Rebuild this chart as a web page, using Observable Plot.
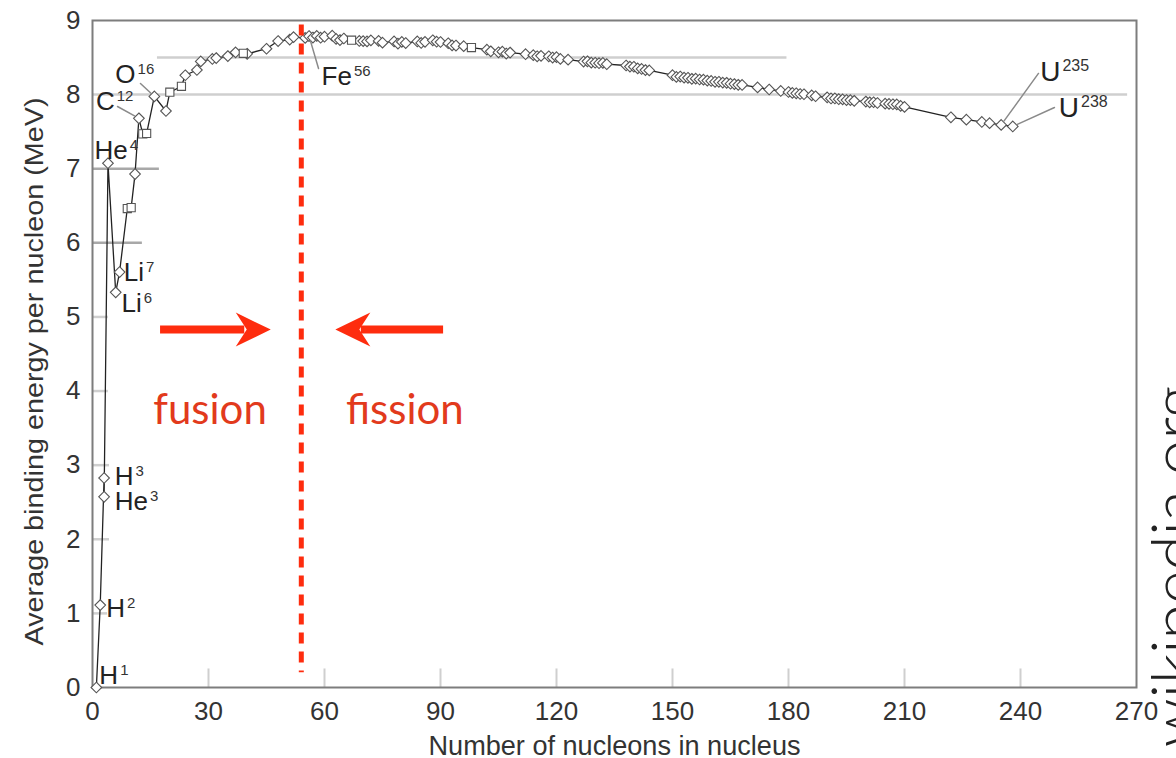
<!DOCTYPE html>
<html>
<head>
<meta charset="utf-8">
<script src="https://cdn.jsdelivr.net/npm/d3@7"></script>
<script src="https://cdn.jsdelivr.net/npm/@observablehq/plot@0.6"></script>
<style>
  html, body { margin: 0; padding: 0; background: #fff; overflow: hidden; }
</style>
</head>
<body>
<div id="chart"></div>
<script>
// ---- Data ----
const massNumbers = [1,2,3,3,4,6,7,9,10,11,12,13,14,16,19,20,23,24,27,28,31,32,35,37,39,40,45,48,51,52,55,56,
  57,58,59,60,62,63,64,65,67,69,70,71,72,74,75,78,79,80,81,84,85,86,88,89,90,92,93,94,96,98,
  102,103,105,106,107,108,112,114,115,116,118,119,120,121,123,127,128,129,130,131,132,133,
  138,139,140,141,142,143,144,150,151,152,153,154,155,156,157,158,159,160,161,162,163,164,165,166,167,168,
  172,175,178,180,181,182,183,184,186,187,190,191,192,193,194,195,196,197,200,201,202,203,205,206,207,208,209,210,
  222,226,230,232,235,238];
const bindingEnergy = [0,1.112,2.827,2.573,7.074,5.332,5.606,6.463,6.475,6.928,7.680,7.470,7.476,7.976,7.779,8.032,8.112,8.261,8.332,8.448,8.481,8.493,8.520,8.570,8.557,8.551,8.619,8.723,8.742,8.776,8.765,8.790,
  8.770,8.792,8.768,8.781,8.795,8.752,8.736,8.757,8.734,8.724,8.722,8.718,8.732,8.725,8.701,8.718,8.688,8.711,8.696,8.717,8.697,8.712,8.733,8.714,8.710,8.693,8.664,8.662,8.654,8.635,
  8.607,8.584,8.571,8.580,8.554,8.567,8.545,8.532,8.517,8.523,8.517,8.500,8.505,8.482,8.472,8.446,8.449,8.431,8.430,8.424,8.428,8.410,
  8.393,8.378,8.376,8.354,8.346,8.331,8.327,8.262,8.239,8.244,8.229,8.227,8.213,8.215,8.204,8.202,8.189,8.184,8.173,8.173,8.162,8.159,8.147,8.142,8.132,8.130,
  8.097,8.069,8.049,8.035,8.023,8.018,8.008,8.005,7.989,7.978,7.963,7.948,7.948,7.938,7.936,7.927,7.926,7.916,7.906,7.896,7.897,7.887,7.878,7.875,7.870,7.868,7.848,7.834,
  7.694,7.662,7.631,7.615,7.591,7.570];
const squareMasses = [9,10,13,14,20,23,39,67,98];

const labelSymbols = ["H","H","H","He","He","Li","Li","C","O","Fe","U","U"];
const labelSupers  = ["1","2","3","3","4","6","7","12","16","56","235","238"];
const labelMass    = [1,2,3,3,4,6,7,12,16,56,235,238];
const labelEnergy  = [0,1.112,2.827,2.573,7.074,5.332,5.606,7.680,7.976,8.790,7.591,7.570];
const leaderLabels = ["C12","O16","Fe56","U235","U238"];

const xTicks = [0,30,60,90,120,150,180,210,240,270];
const yTicks = [0,1,2,3,4,5,6,7,8,9];
const gridLevels = [1,2,3,4,5,6,7,8,8.5];
const gridFrom   = [0,0,0,0,0,0,0,0,16.8];
const gridTo     = [3.9,4.4,4.4,4.1,4.1,12.9,17.3,267.7,179.6];
const xTickMarks = [30,60,90,120,150,180,210,240];

const dividerMass = 54;
const arrowLevel = 4.83;
const arrowFrom = [17.6, 90.8];
const arrowTo   = [46.1, 62.8];
const regionWords = ["fusion", "fission"];
const regionMass  = [30.4, 80.8];
const regionLevel = 3.55;

// ---- Layout ----
const W = 1176, H = 758;
const M = {top: 20, right: 40, bottom: 71, left: 92};
const pxPerA = (W - M.left - M.right) / 270;
const red = "#fe2c0e", redText = "#e23a1c";

const points = massNumbers.map((A, i) => ({A, be: bindingEnergy[i], square: squareMasses.includes(A)}));
const grid = gridLevels.map((y, i) => ({y, x1: gridFrom[i], x2: gridTo[i]}));
const labels = labelSymbols.map((s, i) => ({sym: s, sup: labelSupers[i], A: labelMass[i], be: labelEnergy[i], key: s + labelSupers[i]}));

// label placement (pixel offsets: [dx to left edge, dy to baseline])
const labelOffsets = {
  H1: [3, -4], H2: [6, 12], H3: [10.7, 7.5], He3: [10.7, 12.7], He4: [-13.5, -4.7],
  Li6: [5.8, 20], Li7: [4.2, 8.5], C12: [-43, -8], O16: [-39, -13],
  Fe56: [12.5, 49], U235: [39, -43.5], U238: [46, -9]
};
// leader line ends (pixel offsets from the point)
const leaderEnds = {
  C12: [-21.4, -11.8], O16: [-13.9, -12.9], Fe56: [9.5, 32.4], U235: [37.3, -51.5], U238: [41.7, -19]
};

const leaderShape = {draw(ctx, l) { ctx.moveTo(0, -5); ctx.lineTo(0, -l); }};
const headShape = {draw(ctx) {
  ctx.moveTo(0, 0); ctx.lineTo(17, 35); ctx.lineTo(0, 24); ctx.lineTo(-17, 35); ctx.closePath();
}};

const labelMarks = labels.map((d) => Plot.text([d], {
  x: "A", y: "be", text: "sym",
  dx: labelOffsets[d.key][0], dy: labelOffsets[d.key][1],
  textAnchor: "start", lineAnchor: "bottom",
  fontSize: d.sym === "U" ? 28 : 26, fill: "#222"
}));

const leaderMarks = labels.filter((d) => leaderLabels.includes(d.key)).map((d) => {
  const [ex, ey] = leaderEnds[d.key];
  return Plot.vector([d], {
    x: "A", y: "be", anchor: "start", shape: leaderShape,
    length: Math.hypot(ex, ey), rotate: Math.atan2(ex, -ey) * 180 / Math.PI,
    stroke: "#8a8a8a", strokeWidth: 1.5
  });
});

const arrows = arrowFrom.map((from, i) => ({
  y: arrowLevel, from, to: arrowTo[i],
  shaftEnd: arrowTo[i] + (arrowTo[i] > from ? -1 : 1) * 26 / pxPerA,
  dir: arrowTo[i] > from ? 90 : -90
}));

const xTitle = "Number of nucleons in nucleus";
const yTitle = "Average binding energy per nucleon (MeV)";

const plot = Plot.plot({
  width: W, height: H,
  marginTop: M.top, marginRight: M.right, marginBottom: M.bottom, marginLeft: M.left,
  x: {domain: [0, 270]},
  y: {domain: [0, 9]},
  style: {fontFamily: "'Liberation Sans', Arial, sans-serif", fontSize: "26px", color: "#333", background: "#fff", overflow: "visible"},
  marks: [
    Plot.ruleY(grid, {y: "y", x1: "x1", x2: "x2", stroke: (d) => (d.y === 6 || d.y === 7) ? "#a8a8a8" : "#cfcfcf", strokeWidth: 2.5}),
    Plot.ruleX(xTickMarks, {x: (d) => d, y1: 0, y2: 0.25, stroke: "#cfcfcf", strokeWidth: 2}),
    Plot.frame({stroke: "#7d7d7d", strokeWidth: 2}),
    Plot.axisX({ticks: xTicks, tickSize: 0, tickPadding: 14, label: null, fill: "#333"}),
    Plot.axisY({ticks: yTicks, tickSize: 0, tickPadding: 12, label: null, fill: "#333"}),
    Plot.line(points, {x: "A", y: "be", stroke: "#222", strokeWidth: 1.3}),
    Plot.dot(points.filter((d) => !d.square), {x: "A", y: "be", symbol: "diamond2", r: 4.8, fill: "#fff", stroke: "#555", strokeWidth: 1.1}),
    Plot.dot(points.filter((d) => d.square), {x: "A", y: "be", symbol: "square", r: 4.6, fill: "#fff", stroke: "#555", strokeWidth: 1.1}),
    ...leaderMarks,
    ...labelMarks,
    Plot.ruleX([dividerMass], {x: (d) => d, y1: 8.94, y2: 0.2, stroke: red, strokeWidth: 5, strokeDasharray: "11,8"}),
    Plot.ruleY(arrows, {y: "y", x1: "from", x2: "shaftEnd", stroke: red, strokeWidth: 8}),
    ...arrows.map((a) => Plot.vector([a], {x: "to", y: "y", anchor: "start", shape: headShape, rotate: a.dir, fill: red, stroke: "none"})),
    Plot.text(regionWords, {x: (d, i) => regionMass[i], y: regionLevel, text: (d) => d, fill: redText,
      fontFamily: "Lato, 'Open Sans', sans-serif", fontSize: 42, textAnchor: "middle", lineAnchor: "bottom"}),
    Plot.text([xTitle], {frameAnchor: "bottom", dy: 67, textAnchor: "middle", lineAnchor: "bottom", fontSize: 27, fill: "#333"}),
    Plot.text([yTitle], {frameAnchor: "left", dx: -50, dy: 17.5, rotate: -90, textAnchor: "middle",
      lineAnchor: "bottom", fontSize: 25, fill: "#333"}),
    Plot.text(["wikipedia.org"], {frameAnchor: "top-right", dx: 60, dy: 365, rotate: -90, textAnchor: "end", lineAnchor: "bottom",
      fontFamily: "Lato, 'Open Sans', sans-serif", fontWeight: 300, fontSize: 64, fill: "#222"})
  ]
});

// superscripts on isotope labels (label texts appear in document order)
const allTexts = Array.from(plot.querySelectorAll("text"));
let k = 0;
for (const t of allTexts) {
  if (k < labels.length && t.textContent === labels[k].sym) {
    const ts = document.createElementNS("http://www.w3.org/2000/svg", "tspan");
    ts.setAttribute("font-size", labels[k].sym === "U" ? "16" : "15");
    ts.setAttribute("dx", "2");
    ts.setAttribute("dy", labels[k].sym === "U" ? "-10" : "-9");
    ts.setAttribute("fill", "#333");
    ts.textContent = labels[k].sup;
    t.appendChild(ts);
    k++;
  }
}
for (const t of allTexts) {
  if (t.textContent === yTitle) { t.setAttribute("textLength", "548"); t.setAttribute("lengthAdjust", "spacingAndGlyphs"); }
  if (t.textContent === xTitle) { t.setAttribute("textLength", "372"); t.setAttribute("lengthAdjust", "spacingAndGlyphs"); }
}

document.getElementById("chart").appendChild(plot);
</script>
</body>
</html>
